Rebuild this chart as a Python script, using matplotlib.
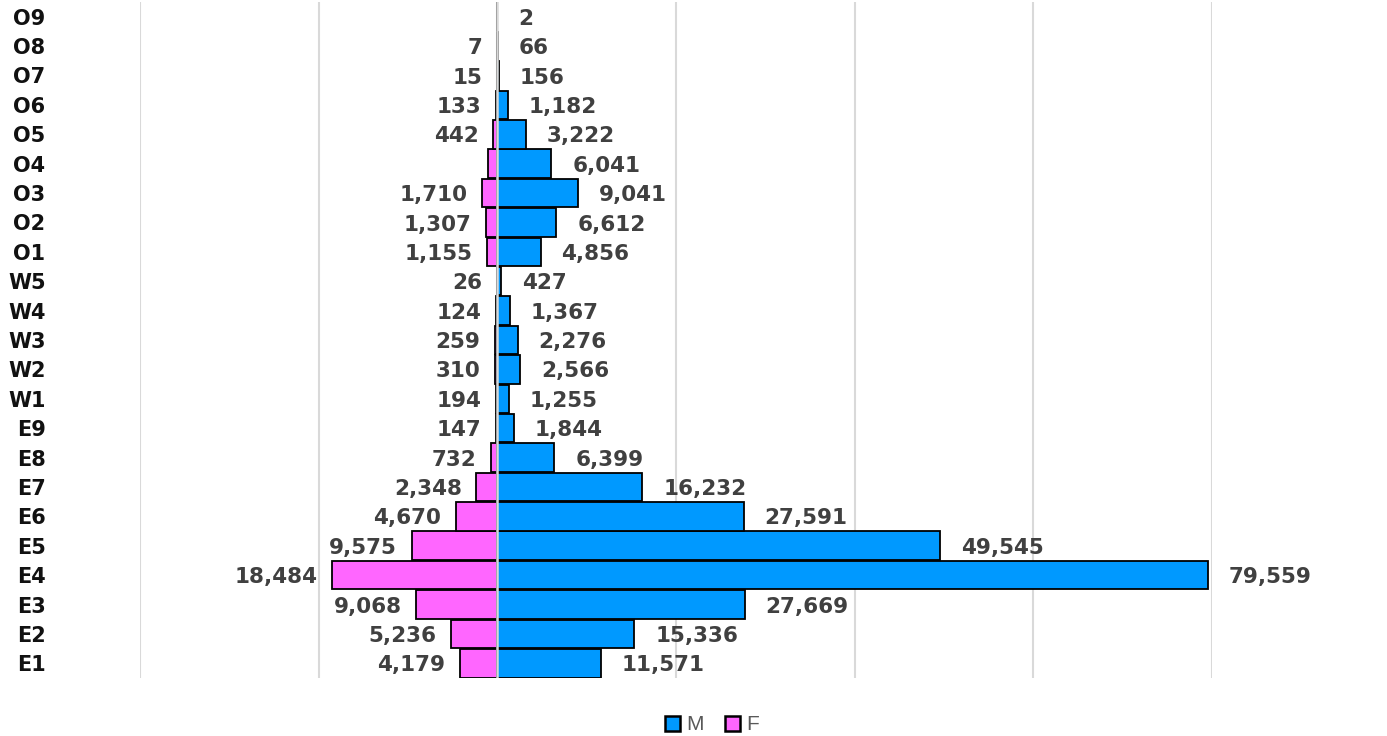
import matplotlib
matplotlib.use("Agg")
import matplotlib.pyplot as plt
from matplotlib.patches import Patch

# grades, bottom to top
grades = ['E1', 'E2', 'E3', 'E4', 'E5', 'E6', 'E7', 'E8', 'E9',
          'W1', 'W2', 'W3', 'W4', 'W5',
          'O1', 'O2', 'O3', 'O4', 'O5', 'O6', 'O7', 'O8', 'O9']
male = [11571, 15336, 27669, 79559, 49545, 27591, 16232, 6399, 1844,
        1255, 2566, 2276, 1367, 427,
        4856, 6612, 9041, 6041, 3222, 1182, 156, 66, 2]
female = [4179, 5236, 9068, 18484, 9575, 4670, 2348, 732, 147,
          194, 310, 259, 124, 26,
          1155, 1307, 1710, 1100, 442, 133, 15, 7, 0]
# labels not shown in the original
female_unlabeled = ['O4', 'O9']

blue = '#0099FF'
pink = '#FF66FF'
label_color = '#404040'
bold_font = 'DejaVu Sans'

fig = plt.figure(figsize=(13.87, 7.36), dpi=100)
ax = fig.add_axes([140 / 1387, 58 / 736, (1212 - 140) / 1387, 676 / 736])

y = range(len(grades))
ax.barh(y, male, height=0.97, color=blue, edgecolor='black', linewidth=1.3, zorder=2)
ax.barh(y, [-v for v in female], height=0.97, color=pink, edgecolor='black', linewidth=1.3, zorder=2)

for i, (g, m, f) in enumerate(zip(grades, male, female)):
    ax.annotate(f'{m:,}', (m, i), xytext=(15, -1.5), textcoords='offset points',
                ha='left', va='center', fontsize=15.5, fontweight='bold',
                color=label_color, family=bold_font, annotation_clip=False)
    if g not in female_unlabeled:
        ax.annotate(f'{f:,}', (-f, i), xytext=(-10.5, -1.5), textcoords='offset points',
                    ha='right', va='center', fontsize=15.5, fontweight='bold',
                    color=label_color, family=bold_font, annotation_clip=False)

ax.set_xlim(-40000, 80000)
ax.set_ylim(-0.5, len(grades) - 0.5)
ax.set_xticks(range(-40000, 80001, 20000))
ax.set_xticklabels([])
ax.grid(axis='x', color='#D9D9D9', linewidth=1.5)
ax.axvline(0, color='#D9D9D9', linewidth=1.8, zorder=3)
ax.set_axisbelow(True)
ax.tick_params(axis='both', length=0)

ax.set_yticks(list(y))
ax.set_yticklabels(grades, fontsize=15, fontweight='bold', family=bold_font, color='#111111')
ax.tick_params(axis='y', pad=68)
for lbl in ax.get_yticklabels():
    lbl.set_ha('right')

for s in ax.spines.values():
    s.set_visible(False)

handles = [Patch(facecolor=blue, edgecolor='black', linewidth=1.8, label='M'),
           Patch(facecolor=pink, edgecolor='black', linewidth=1.8, label='F')]
fig.legend(handles=handles, loc='center', bbox_to_anchor=(712 / 1387, 1 - 725 / 736),
           ncol=2, frameon=False, handlelength=0.75, handleheight=0.75,
           handletextpad=0.3, columnspacing=1.0,
           prop={'family': 'Liberation Sans', 'size': 15}, labelcolor='#595959')

fig.savefig('out.png', dpi=100)
